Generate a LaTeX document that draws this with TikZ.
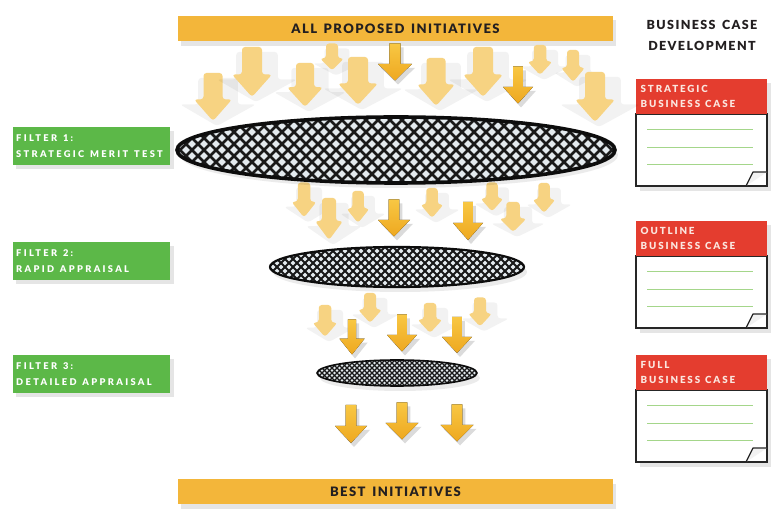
\documentclass[tikz,border=0pt]{standalone}
\usepackage{fontspec}
\setmainfont{Lato}[BoldFont={Lato Black}]
\newfontfamily\barfont{Lato}[BoldFont={Lato Black},LetterSpace=11,WordSpace=1.5]
\newfontfamily\filtfont{Lato}[BoldFont={Lato Black},LetterSpace=25,WordSpace=1.3]
\newfontfamily\headfont{Lato}[BoldFont={Lato Black},LetterSpace=19,WordSpace=1.2]
\usetikzlibrary{calc}
\definecolor{barorange}{HTML}{F3B63A}
\definecolor{filtergreen}{HTML}{5CB848}
\definecolor{casered}{HTML}{E43D2F}
\definecolor{linegreen}{HTML}{A4D68A}
\definecolor{darktext}{HTML}{231F20}
\definecolor{palearrow}{HTML}{F7D382}
\definecolor{solidtop}{HTML}{F8C743}
\definecolor{solidbot}{HTML}{EEA820}
\definecolor{cellbg}{HTML}{E3EAEE}
\definecolor{headtext}{HTML}{FBE6DF}

\newcommand\arrpath[5]{({#1-#5*#3/2},{#2-#4/2}) -- ({#1+#5*#3/2},{#2-#4/2}) -- ({#1+#5*#3/2},{#2+0.05*#4}) -- ({#1+#3/2},{#2+0.05*#4}) -- ({#1},{#2+#4/2}) -- ({#1-#3/2},{#2+0.05*#4}) -- ({#1-#5*#3/2},{#2+0.05*#4}) -- cycle}
\newcommand\palearr[4]{%
  \fill[black,opacity=.05,rounded corners=3pt] \arrpath{#1+4}{#2+5}{#3+2}{#4}{0.52};
  \fill[palearrow,rounded corners=3pt] \arrpath{#1}{#2}{#3}{#4}{0.5};}
\newcommand\solidarr[4]{%
  \fill[black,opacity=.14] \arrpath{#1+3}{#2+4}{#3}{#4}{0.33};
  \fill[top color=solidtop,bottom color=solidbot] \arrpath{#1}{#2}{#3}{#4}{0.33};}
\newcommand\hatchell[7]{%
  \fill[black,opacity=.08] (#1+3,#2+5) ellipse [x radius=#3pt, y radius=#4pt];
  \begin{scope}
    \clip (#1,#2) ellipse [x radius=#3pt, y radius=#4pt];
    \fill[cellbg] (#1,#2) ellipse [x radius=#3pt, y radius=#4pt];
    \foreach \i in {-26,...,26} {
      \draw[line width=#6pt,black!90] ({#1+\i*#5-#4-5},{#2-#4-5}) -- ++({2*#4+10},{2*#4+10});
      \draw[line width=#6pt,black!90] ({#1+\i*#5+#4+5},{#2-#4-5}) -- ++({-2*#4-10},{2*#4+10});
    }
  \end{scope}
  \draw[line width=#7pt,black!95] (#1,#2) ellipse [x radius=#3pt, y radius=#4pt];}

\tikzset{
  x=1pt, y=-1pt,
  barbox/.style={fill=barorange, minimum width=435pt, minimum height=25pt, inner sep=0pt,
    font=\barfont\bfseries\fontsize{13}{14}\selectfont, text=darktext},
  filterbox/.style={fill=filtergreen, anchor=north west, minimum width=157pt, minimum height=38pt, inner sep=0pt},
  filtertext/.style={anchor=west, inner sep=0pt, align=left, text=white,
    font=\filtfont\bfseries\fontsize{9.3}{15.5}\selectfont},
  headbox/.style={fill=casered, anchor=north west, minimum width=131pt, minimum height=35pt, inner sep=0pt},
  headtextst/.style={anchor=west, inner sep=0pt, align=left, text=headtext,
    font=\headfont\bfseries\fontsize{9.8}{15}\selectfont},
  bodybox/.style={fill=white, draw=black!85, line width=1.6pt},
  ruled/.style={linegreen, line width=1pt},
  shade/.style={fill=black, opacity=.10},
}

\begin{document}
\begin{tikzpicture}
\useasboundingbox (0,0) rectangle (782,518);
\fill[white] (0,0) rectangle (782,518);

% bars
\fill[shade] (181,20) rectangle (616,46);
\node[barbox] (top) at (395.5,28.5) {ALL PROPOSED INITIATIVES};
\fill[shade] (181,484) rectangle (616,509);
\node[barbox] (bottom) at (395.5,491.5) {BEST INITIATIVES};

% heading right
\node[font=\barfont\bfseries\fontsize{12.5}{21}\selectfont, text=darktext, align=center] (bcd) at (702,35) {BUSINESS CASE\\DEVELOPMENT};

% filter boxes
\foreach \yy/\nm/\la/\lb in {127/f1/FILTER 1:/STRATEGIC MERIT TEST, 242/f2/FILTER 2:/RAPID APPRAISAL, 355/f3/FILTER 3:/DETAILED APPRAISAL} {
  \fill[shade] (16,\yy+4) rectangle (174,\yy+42);
  \node[filterbox] (\nm) at (13,\yy) {};
  \node[filtertext] (\nm t) at ([xshift=3pt]\nm.west) {\la\\\lb};
}

% business case cards
\foreach \hy/\nm/\txt in {79/c1/STRATEGIC, 221/c2/OUTLINE, 355/c3/FULL} {
  \fill[shade] (640,\hy+4) rectangle (771,\hy+112);
  \draw[bodybox] (636,\hy+35) rectangle (767,\hy+107);
  \draw[ruled] (647,\hy+51) -- (753,\hy+51);
  \draw[ruled] (647,\hy+69) -- (753,\hy+69);
  \draw[ruled] (647,\hy+86) -- (753,\hy+86);
  \filldraw[fill=black!5, draw=black!85, line width=1.3pt, line join=round] (746,\hy+107) -- (753,\hy+93) -- (767,\hy+93);
  \node[headbox] (\nm) at (636,\hy) {};
  \node[headtextst] (\nm t) at ([xshift=4.5pt]\nm.west) {\txt\\BUSINESS CASE};
}

% top arrows
\palearr{213}{97}{38}{48}
\palearr{252}{72}{40}{50}
\palearr{305}{85}{36}{44}
\palearr{332}{57}{24}{27}
\palearr{358}{81}{40}{48}
\palearr{436}{82}{38}{48}
\palearr{483}{72}{40}{50}
\palearr{540}{60}{25}{30}
\palearr{573}{66}{24}{32}
\palearr{595}{97}{40}{50}
\solidarr{395}{62}{34}{37}
\solidarr{518}{85}{30}{37}

% middle arrows
\palearr{304}{200}{25}{35}
\palearr{329}{219}{28}{42}
\palearr{358}{207}{23}{32}
\palearr{432}{203}{23}{30}
\palearr{492}{197}{23}{29}
\palearr{513}{217}{27}{30}
\palearr{544}{198}{23}{30}
\solidarr{394}{218}{32}{37}
\solidarr{468}{221}{30}{38}

% lower arrows
\palearr{325}{321}{25}{32}
\palearr{370}{308}{24}{30}
\palearr{430}{318}{25}{30}
\palearr{480}{312}{24}{29}
\solidarr{352}{337}{25}{35}
\solidarr{402}{333}{30}{37}
\solidarr{457}{335}{30}{36}

% bottom arrows
\solidarr{351}{424}{32}{38}
\solidarr{402}{421}{33}{37}
\solidarr{457}{423}{33}{37}

% filters (ellipses)
\hatchell{396}{150}{219}{33}{12}{2.8}{3.6}
\hatchell{397}{267}{127}{20}{8}{1.8}{2.2}
\hatchell{397}{373}{80}{13}{5}{1.2}{1.6}
\end{tikzpicture}
\end{document}
